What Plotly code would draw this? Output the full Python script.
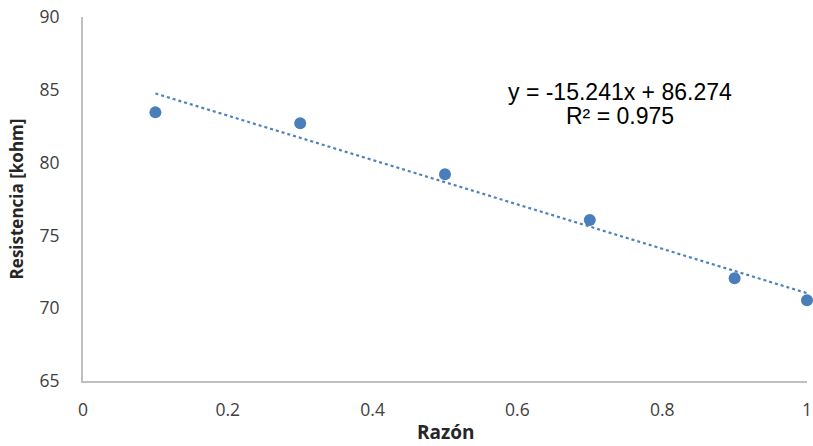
import plotly.graph_objects as go

razon = [0.1, 0.3, 0.5, 0.7, 0.9, 1.0]
resistencia = [83.45, 82.7, 79.2, 76.05, 72.05, 70.55]
slope = -15.241
intercept = 86.274
trend_x = [0.1, 1.0]
trend_y = [slope * x + intercept for x in trend_x]
x_ticks = [0, 0.2, 0.4, 0.6, 0.8, 1]
x_ticklabels = ["0", "0.2", "0.4", "0.6", "0.8", "1"]
y_ticks = [65, 70, 75, 80, 85, 90]
eq_lines = ["y = -15.241x + 86.274", "R² = 0.975"]

fig = go.Figure()
fig.add_trace(go.Scatter(
    x=trend_x, y=trend_y, mode="lines",
    line=dict(color="#4f81bd", width=2.2, dash="dot"),
    hoverinfo="skip", cliponaxis=False))
fig.add_trace(go.Scatter(
    x=razon, y=resistencia, mode="markers",
    marker=dict(color="#4a7ebb", size=12, line=dict(width=0)),
    cliponaxis=False))

for txt, ypix in zip(eq_lines, [92, 116]):
    fig.add_annotation(
        xref="paper", yref="paper", x=(620 - 83) / 724, y=(381 - ypix) / 364,
        xanchor="center", yanchor="middle",
        text=txt, showarrow=False, align="center",
        font=dict(family="Liberation Sans, Arial", size=23, color="#000000"))

fig.add_annotation(
    xref="paper", yref="paper", x=(446 - 83) / 724, y=-(447 - 381) / 364,
    xanchor="center", yanchor="bottom", showarrow=False,
    text="<b>Razón</b>",
    font=dict(family="Open Sans, Noto Sans", size=19, color="#262626"))

axis_font = dict(family="Open Sans, Noto Sans", size=17.5, color="#404040")
fig.update_layout(
    width=813, height=446,
    margin=dict(l=83, r=6, t=17, b=65),
    paper_bgcolor="white", plot_bgcolor="white",
    showlegend=False,
    xaxis=dict(
        range=[0, 1], tickvals=x_ticks, ticktext=x_ticklabels,
        showgrid=False, zeroline=False, showline=True,
        linecolor="#bfbfbf", linewidth=2, ticks="",
        tickfont=axis_font, ticklabelstandoff=12, automargin=False),
    yaxis=dict(
        range=[65, 90], tickvals=y_ticks,
        showgrid=False, zeroline=False, showline=True,
        linecolor="#bfbfbf", linewidth=2, ticks="",
        tickfont=axis_font, ticklabelstandoff=18, automargin=False,
        title=dict(text="<b>Resistencia [kohm]</b>", standoff=12,
                   font=dict(family="Open Sans, Noto Sans", size=17, color="#262626"))),
)

fig.write_html("out.html")
